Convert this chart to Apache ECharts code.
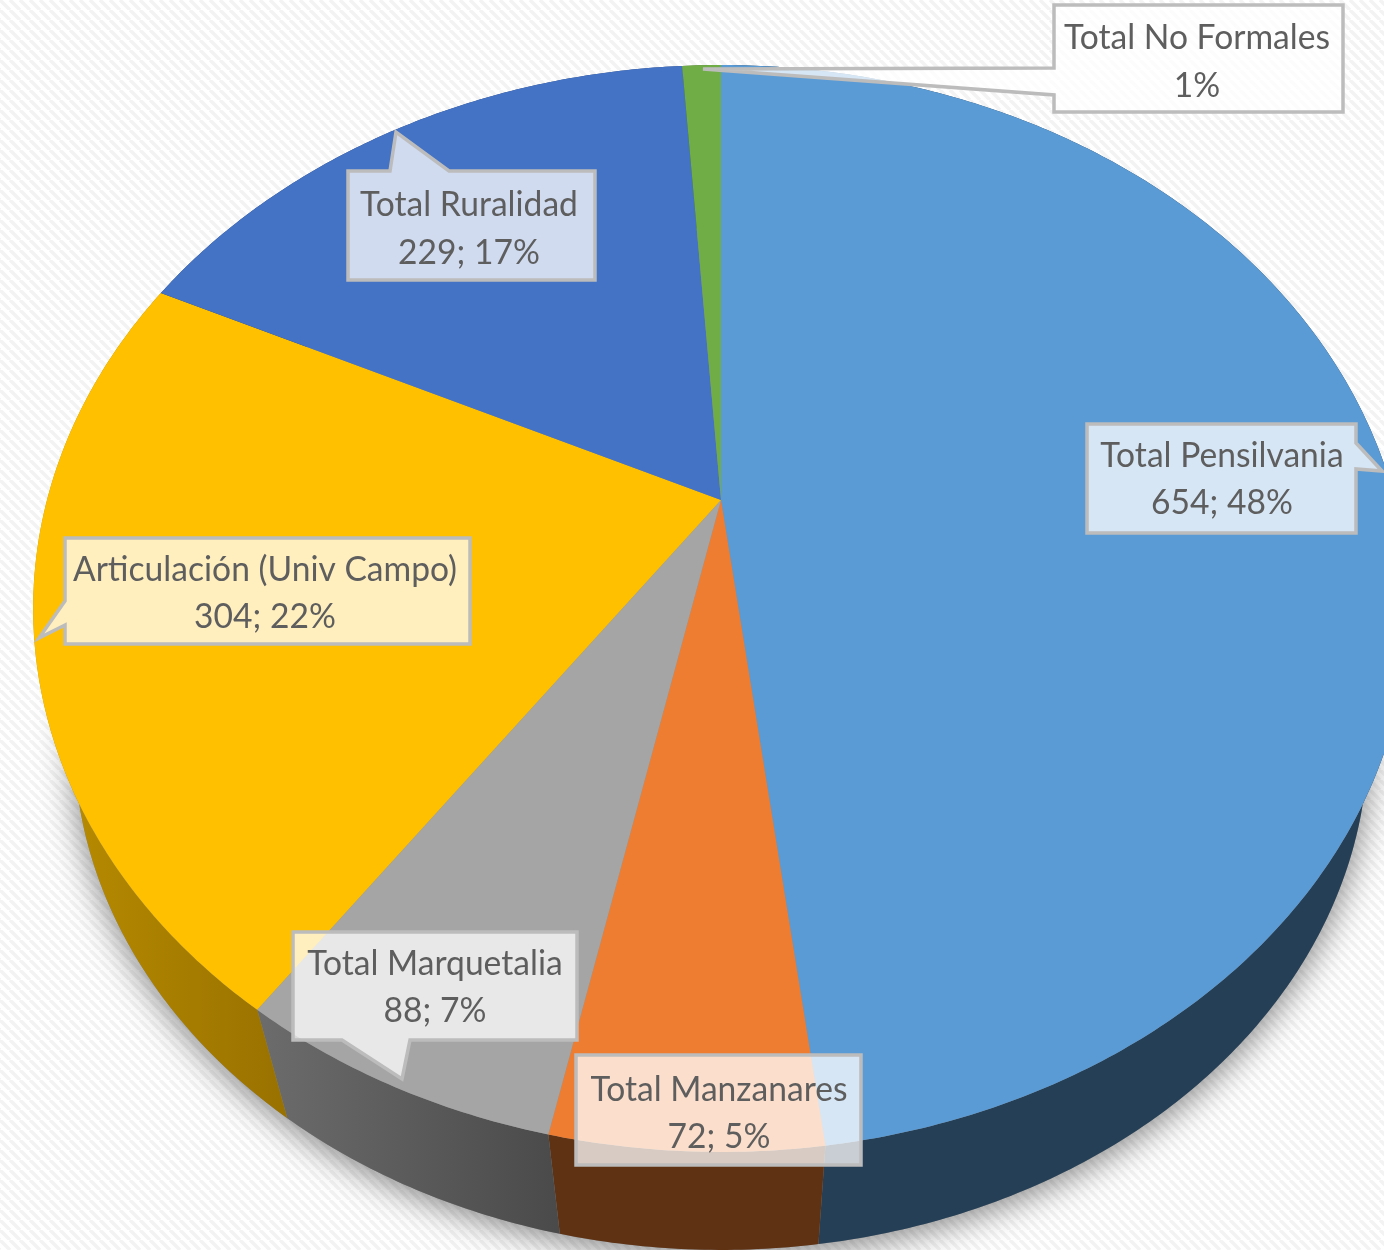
<!DOCTYPE html>
<html><head><meta charset="utf-8">
<style>html,body{margin:0;padding:0;background:#fff}#c{width:1384px;height:1250px;filter:blur(0.6px)}</style>
<script src="https://cdn.jsdelivr.net/npm/echarts@6/dist/echarts.min.js"></script>
</head><body><div id="c"></div>
<script>
// ---- data ----
const categories = ['Total Pensilvania','Total Manzanares','Total Marquetalia','Articulación (Univ Campo)','Total Ruralidad','Total No Formales'];
const seriesValues = [654,72,88,304,229,15];
const percentLabels = ['48%','5%','7%','22%','17%','1%'];
const showValue = [true,true,true,true,true,false];
// ---- style ----
const topColors = ['#5b9bd5','#ef7d31','#a5a5a5','#ffc000','#4472c4','#70ad47'];
const wallColors = [['#243f56','#243f56'],['#5f3213','#5f3213'],['#6c6c6c','#4a4a4a'],['#bb8e00','#997100'],['#2a4476','#2a4476'],['#43682a','#43682a']];
// ---- perspective of the tilted disc ----
const topFace = {cx:721, cy:500, a:521.8, c:674, b:0.1996};
const baseFace = {cx:721, cy:641, a:492, c:635, b:0.192};
// ---- callout layout ----
const calloutOutlines = [
 [[1087,424],[1356,424],[1356,443],[1382,471],[1356,469],[1356,533],[1087,533]],
 [[576,1055],[861,1055],[861,1165],[576,1165]],
 [[293,932],[577,932],[577,1040],[410,1040],[402,1079],[342,1040],[293,1040]],
 [[65,538],[470,538],[470,644],[65,644],[65,625],[39,638],[65,601]],
 [[348,171],[390,171],[396,132],[449,171],[595,171],[595,280],[348,280]],
 [[1054,5],[1343,5],[1343,112],[1054,112],[1054,95],[703,69],[1054,68]]
];
const textCenters = [[1222,479],[719,1113],[435,987],[265,593],[469,228.5],[1197,61.5]];
const textScale = 0.96, fontSize = 35, lineGap = 47.5;

const total = seriesValues.reduce((s,v)=>s+v,0);
let acc = 0;
const sliceRows = seriesValues.map((v,i)=>{const r=[acc/total*Math.PI*2,(acc+v)/total*Math.PI*2,i];acc+=v;return r;});
function project(f,t){const u=Math.sin(t),v=-Math.cos(t),w=1-f.b*v;return [f.cx+f.c*u/w,f.cy+f.a*v/w];}
function arc(f,s,e){const n=Math.max(2,Math.ceil((e-s)/0.01)),p=[];for(let i=0;i<=n;i++)p.push(project(f,s+(e-s)*i/n));return p;}
const hatch=document.createElement('canvas');hatch.width=hatch.height=10;
(function(){const g=hatch.getContext('2d');g.fillStyle='#fff';g.fillRect(0,0,10,10);g.strokeStyle='#f3f3f3';g.lineWidth=3.4;
 for(let k=-10;k<=10;k+=10){g.beginPath();g.moveTo(k,0);g.lineTo(k+10,10);g.stroke();}})();

const chart=echarts.init(document.getElementById('c'),null,{renderer:'canvas'});
const base={type:'custom',coordinateSystem:'none',silent:true,animation:false,clip:false};
chart.setOption({
 backgroundColor:{image:hatch,repeat:'repeat'},
 animation:false,
 series:[
 Object.assign({},base,{name:'shadow',z:1,data:[[0,Math.PI*2]],renderItem:(p,api)=>({type:'polygon',
   shape:{points:arc(baseFace,api.value(0),api.value(1))},
   style:{fill:'#888',shadowBlur:34,shadowColor:'rgba(0,0,0,0.5)',shadowOffsetY:5}})}),
 Object.assign({},base,{name:'walls',z:2,data:sliceRows,renderItem:(p,api)=>{
   const s=api.value(0),e=api.value(1),i=api.value(2);
   const pts=arc(topFace,s,e).concat(arc(baseFace,s,e).reverse());
   return {type:'polygon',shape:{points:pts},style:{
     fill:{type:'linear',x:0,y:0,x2:1,y2:0,colorStops:[{offset:0,color:wallColors[i][0]},{offset:1,color:wallColors[i][1]}]}}};
 }}),
 Object.assign({},base,{name:'top',z:3,data:sliceRows,renderItem:(p,api)=>{
   const s=api.value(0),e=api.value(1),i=api.value(2);
   return {type:'polygon',shape:{points:[[topFace.cx,topFace.cy]].concat(arc(topFace,s,e))},style:{fill:topColors[i]}};
 }}),
 Object.assign({},base,{name:'labels',z:4,data:sliceRows,renderItem:(p,api)=>{
   const i=api.value(2);
   const text=(showValue[i]?categories[i]+'\n'+seriesValues[i]+'; ':categories[i]+'\n')+percentLabels[i];
   return {type:'group',children:[
     {type:'polygon',shape:{points:calloutOutlines[i]},style:{fill:'rgba(255,255,255,0.75)',stroke:'#bcbcbc',lineWidth:3.5,lineJoin:'miter'}},
     {type:'text',x:textCenters[i][0],y:textCenters[i][1],scaleX:textScale,style:{text:text,textAlign:'center',textVerticalAlign:'middle',
       fontFamily:'Lato',fontSize:fontSize,lineHeight:lineGap,fill:'#5e5e5e'}}
   ]};
 }})
 ]
});
</script></body></html>
